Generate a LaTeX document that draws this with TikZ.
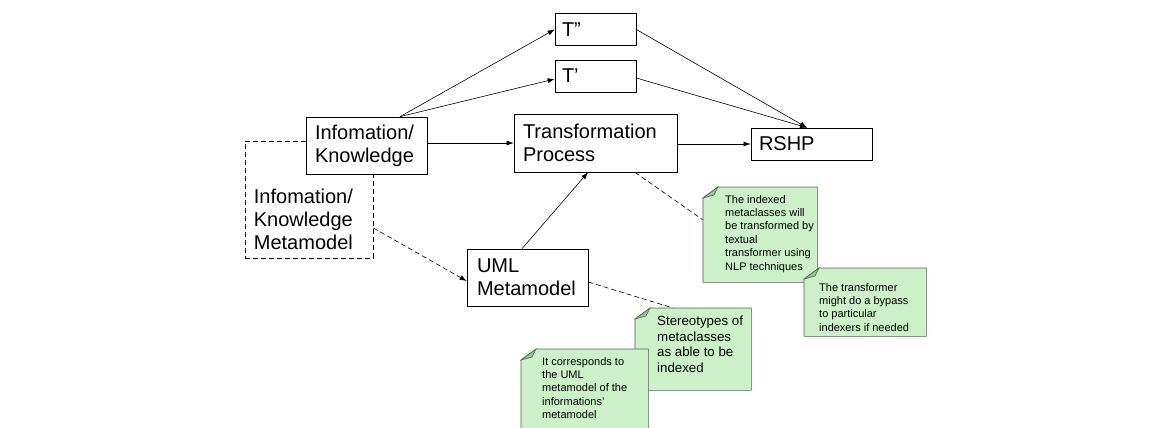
\documentclass[tikz,border=0pt]{standalone}
\usepackage{fontspec}
\setmainfont{Liberation Sans}
\usepackage{xcolor}
\usepackage{tikz}
\usetikzlibrary{arrows.meta,calc}

\definecolor{notegreen}{RGB}{204,240,200}
\definecolor{foldgreen}{RGB}{150,196,146}
\definecolor{noteedge}{RGB}{80,100,80}

\begin{document}
\begin{tikzpicture}[x=1pt, y=-1pt,
  box/.style={draw, fill=white, rectangle, align=left, inner ysep=0pt,
              line width=0.7pt, font=\fontsize{20}{23}\selectfont},
  conn/.style={-{Latex[length=7pt,width=5pt]}, line width=0.6pt},
  dline/.style={dash pattern=on 5pt off 3pt, line width=0.6pt},
  notecard/.style={rectangle, anchor=north west, inner sep=0pt},
  notebg/.style={fill=notegreen, draw=noteedge, line width=0.6pt},
  notecorner/.style={fill=foldgreen, draw=noteedge, line width=0.6pt},
  notetext/.style={anchor=north west, inner sep=0pt, align=left,
                   font=\fontsize{11}{13.4}\selectfont}]

%% ── Scale: 1 unit = 1px, origin top left, y pointing down ───────────────────
\useasboundingbox (0,0) rectangle (1171,428);

%% ── Metamodel frame (dashed, behind the information box) ────────────────────
\node[draw, dashed, dash pattern=on 5pt off 3pt, line width=0.6pt,
      minimum width=128pt, minimum height=117pt, inner sep=0pt]
  (metabox) at (309,199.5) {};
\node[anchor=north west, inner sep=0pt, align=left,
      font=\fontsize{20}{23}\selectfont]
  (metatext) at ([xshift=9pt,yshift=-48pt]metabox.north west)
  {Infomation/\\Knowledge\\Metamodel};

%% ── Boxes ───────────────────────────────────────────────────────────────────
\node[box, text width=103pt, inner xsep=9pt, minimum height=57pt]
  (info) at (366.5,145.5) {Infomation/\\Knowledge};
\node[box, text width=67pt, inner xsep=7pt, minimum height=32pt]
  (tpp) at (595.5,29.5) {T''};
\node[box, text width=67pt, inner xsep=7pt, minimum height=32pt]
  (tp) at (595.5,76) {T'};
\node[box, text width=145pt, inner xsep=9pt, minimum height=58pt]
  (trans) at (595.5,143) {Transformation\\Process};
\node[box, text width=105pt, inner xsep=8pt, minimum height=32pt]
  (rshp) at (811.5,144) {RSHP};
\node[box, text width=101pt, inner xsep=10pt, minimum height=57pt]
  (uml) at (527.5,277.5) {UML\\Metamodel};

%% ── Connectors ──────────────────────────────────────────────────────────────
\draw[conn] ([xshift=33.5pt]info.north) -- (tpp.west);
\draw[conn] ([xshift=33.5pt]info.north) -- ([yshift=-3pt]tp.west);
\draw[conn] (info.east |- trans.west) -- (trans.west);
\draw[conn] (trans.east |- rshp.west) -- (rshp.west);
\draw[conn] (tpp.east) -- ([xshift=-4.5pt]rshp.north);
\draw[conn] ([yshift=-2pt]tp.east) -- ([xshift=-4.5pt]rshp.north);
\draw[conn] ([xshift=-5.5pt]uml.north) -- ([xshift=-7.5pt]trans.south);
\draw[conn, dline] ([yshift=-28.5pt]metabox.east) -- ([yshift=-3.5pt]uml.west);

%% ── Note: indexed metaclasses ───────────────────────────────────────────────
\node[notecard, minimum width=114pt, minimum height=95pt] (idxnote) at (703,187) {};
\draw[dline] ([xshift=39.5pt]trans.south) -- ([yshift=-33pt]idxnote.north west);
\filldraw[notebg] ([yshift=-11pt]idxnote.north west) -- ([xshift=15pt]idxnote.north west)
  -- (idxnote.north east) -- (idxnote.south east) -- (idxnote.south west) -- cycle;
\filldraw[notecorner] ([yshift=-11pt]idxnote.north west) -- ([xshift=15pt]idxnote.north west)
  -- ([xshift=11pt,yshift=-8pt]idxnote.north west) -- cycle;
\node[notetext] (idxtext) at ([xshift=22pt,yshift=-8pt]idxnote.north west)
  {The indexed\\metaclasses will\\be transformed by\\textual\\transformer using\\NLP techniques};

%% ── Note: bypass ────────────────────────────────────────────────────────────
\node[notecard, minimum width=122pt, minimum height=68pt] (bypnote) at (804,268) {};
\filldraw[notebg] ([yshift=-11pt]bypnote.north west) -- ([xshift=15pt]bypnote.north west)
  -- (bypnote.north east) -- (bypnote.south east) -- (bypnote.south west) -- cycle;
\filldraw[notecorner] ([yshift=-11pt]bypnote.north west) -- ([xshift=15pt]bypnote.north west)
  -- ([xshift=11pt,yshift=-8pt]bypnote.north west) -- cycle;
\node[notetext] (byptext) at ([xshift=15pt,yshift=-15pt]bypnote.north west)
  {The transformer\\might do a bypass\\to particular\\indexers if needed};

%% ── Note: stereotypes ───────────────────────────────────────────────────────
\node[notecard, minimum width=116pt, minimum height=82pt] (sternote) at (635,308) {};
\draw[dline] ([yshift=-4.5pt]uml.east) -- ([xshift=38pt]sternote.north west);
\filldraw[notebg] ([yshift=-11pt]sternote.north west) -- ([xshift=15pt]sternote.north west)
  -- (sternote.north east) -- (sternote.south east) -- (sternote.south west) -- cycle;
\filldraw[notecorner] ([yshift=-11pt]sternote.north west) -- ([xshift=15pt]sternote.north west)
  -- ([xshift=11pt,yshift=-8pt]sternote.north west) -- cycle;
\node[notetext, font=\fontsize{13.3}{15.5}\selectfont] (stertext)
  at ([xshift=22pt,yshift=-8pt]sternote.north west)
  {Stereotypes of\\metaclasses\\as able to be\\indexed};

%% ── Note: UML correspondence ────────────────────────────────────────────────
\node[notecard, minimum width=127pt, minimum height=82pt] (umlnote) at (521,349) {};
\filldraw[notebg] ([yshift=-11pt]umlnote.north west) -- ([xshift=15pt]umlnote.north west)
  -- (umlnote.north east) -- (umlnote.south east) -- (umlnote.south west) -- cycle;
\filldraw[notecorner] ([yshift=-11pt]umlnote.north west) -- ([xshift=15pt]umlnote.north west)
  -- ([xshift=11pt,yshift=-8pt]umlnote.north west) -- cycle;
\node[notetext] (umltext) at ([xshift=21pt,yshift=-8pt]umlnote.north west)
  {It corresponds to\\the UML\\metamodel of the\\informations'\\metamodel};

\end{tikzpicture}
\end{document}
